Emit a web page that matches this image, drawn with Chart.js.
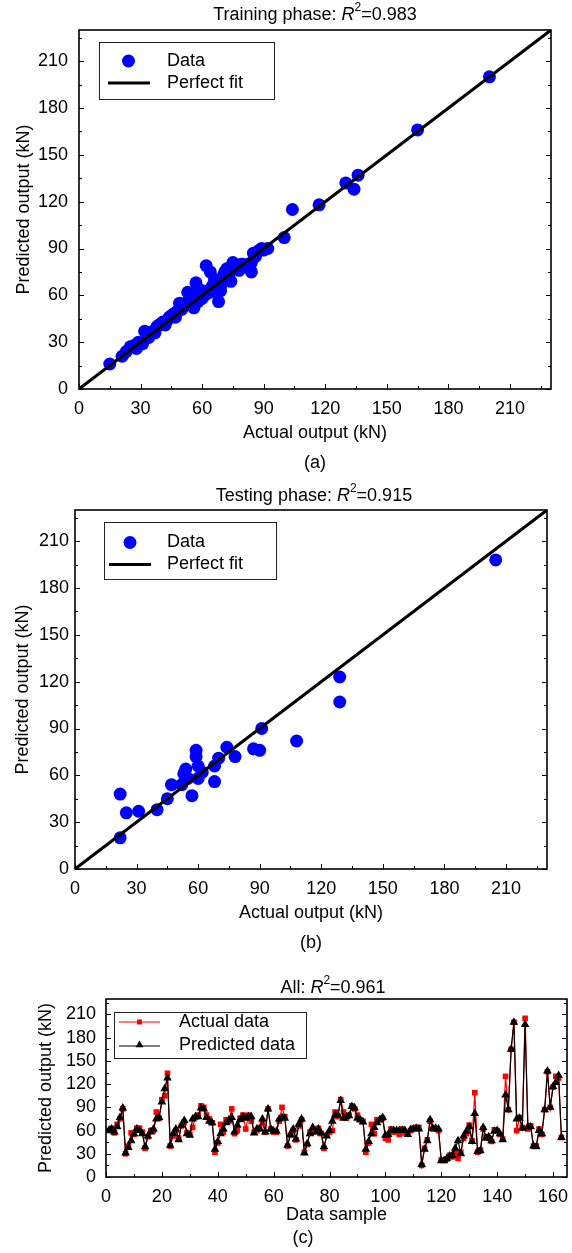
<!DOCTYPE html>
<html>
<head>
<meta charset="utf-8">
<script src="https://cdn.jsdelivr.net/npm/chart.js@4.4.1/dist/chart.umd.min.js"></script>
<style>
html,body{margin:0;padding:0;background:#fff;}
#wrap{position:relative;width:572px;height:1253px;overflow:hidden;background:#fff;}
canvas{position:absolute;left:0;display:block;}
</style>
</head>
<body>
<div id="wrap">
<canvas id="ca" width="572" height="475" style="top:0px"></canvas>
<canvas id="cb" width="572" height="478" style="top:475px"></canvas>
<canvas id="cc" width="572" height="300" style="top:953px"></canvas>
</div>
<script>
// ================= DATA =================
// (a) Training phase scatter: actual vs predicted (kN)
const trainActual    = [15,21,23,25,27,28,29,31,32,33,34,36,37,38,39,40,41,42,43,44,45,46,47,48,49,50,50,51,52,53,53,54,55,55,56,57,57,58,58,59,60,60,61,62,62,63,64,64,65,66,66,67,68,69,69,70,71,72,72,73,74,74,75,76,77,78,79,80,81,82,83,84,84,85,86,87,88,89,90,92,100,104,117,130,134,136,165,200];
const trainPredicted = [16,21,24,27,28,26,30,29,37,36,33,37,36,40,41,42,43,41,44,46,47,48,46,50,55,51,54,53,55,62,54,58,55,60,52,60,68,64,56,62,58,63,60,79,61,63,75,62,66,65,70,68,56,66,63,72,75,77,70,73,69,76,81,78,79,76,80,80,79,78,80,75,81,87,85,88,89,90,89,90,97,115,118,132,128,137,166,200];
// (b) Testing phase scatter
const testActual    = [22,22,25,31,40,45,47,52,53,54,55,57,59,59,60,60,62,68,68,70,74,78,87,90,91,108,129,129,205];
const testPredicted = [20,48,36,37,38,45,54,54,61,64,58,47,76,72,66,58,62,56,66,71,78,72,77,76,90,82,123,107,198];
// Perfect-fit line end points
const fitLine = [0, 230];
// (c) All samples
const actualData = [60,63,57,68,75,88,30,40,57,55, 63,63,58,37,52,60,60,84,76,100, 105,134,40,53,60,50,66,71,57,55,
  64,77,80,92,90,80,75,70,32,44, 68,58,74,72,88,56,60,76,80,62, 80,72,58,60,64,70,58,88,62,58,
  58,72,90,78,40,54,60,48,66,74, 32,42,58,58,62,63,56,37,54,58, 60,84,78,100,84,76,80,92,88,80,
  74,72,32,44,68,56,74,74,76,50, 48,62,58,58,55,62,57,56,60,63, 64,64,15,37,48,72,62,62,60,22,
  22,23,28,26,32,24,32,50,56,67, 47,109,32,35,62,52,50,46,61,60, 55,49,130,87,165,200,60,77,64,205,
  62,66,40,40,62,55,87,136,90,116, 130,128,51];
const predictedData = [60,62,58,65,77,89,31,38,47,56, 62,60,56,39,53,58,62,75,77,97, 114,128,41,56,62,48,67,73,56,54,
  75,78,78,89,88,77,72,70,36,46, 56,62,70,74,77,58,67,74,78,76, 78,78,57,62,62,75,58,88,62,59,
  59,75,77,76,41,55,62,49,68,75, 31,43,56,64,58,62,57,39,53,60, 72,80,80,99,76,78,79,91,89,76,
  74,71,36,46,56,64,70,74,77,54, 55,60,60,60,60,60,60,55,61,62, 63,62,16,36,47,74,63,63,62,21,
  21,24,27,28,37,47,30,53,59,65, 46,82,33,34,64,50,52,47,59,60, 56,48,106,87,165,200,75,76,63,197,
  65,65,40,39,60,56,87,137,90,117, 122,131,51];
const sampleIndex = actualData.map((_, i) => i + 1);
// Tick labels
const scatterTicks = [0,30,60,90,120,150,180,210];
const sampleTicks  = [0,20,40,60,80,100,120,140,160];
const valueTicks   = [0,30,60,90,120,150,180,210];
// Titles
const titleA = ['Training phase: ', 'R', '2', '=0.983'];
const titleB = ['Testing phase: ', 'R', '2', '=0.915'];
const titleC = ['All: ', 'R', '2', '=0.961'];

// ================= RENDERING =================
const FONT = "'Liberation Sans', Arial, Helvetica, sans-serif";
Chart.defaults.font.family = FONT;
Chart.defaults.font.size = 18;
Chart.defaults.color = '#000';

function pts(xs, ys) { return xs.map((x, i) => ({x: x, y: ys[i]})); }

function drawRich(ctx, parts, cx, cy) {
  const fonts = ['18px ' + FONT, 'italic 18px ' + FONT, '12px ' + FONT, '18px ' + FONT];
  const dy = [0, 0, -7, 0];
  let w = 0;
  const ws = parts.map((p, i) => { ctx.font = fonts[i]; const m = ctx.measureText(p).width; w += m; return m; });
  let x = cx - w / 2;
  ctx.fillStyle = '#000'; ctx.textAlign = 'left'; ctx.textBaseline = 'middle';
  parts.forEach((p, i) => { ctx.font = fonts[i]; ctx.fillText(p, x, cy + dy[i]); x += ws[i]; });
}

function decor(o) {
  return {
    id: 'decor',
    afterDraw(chart) {
      const ctx = chart.ctx, a = chart.chartArea, xs = chart.scales.x, ys = chart.scales.y;
      ctx.save();
      ctx.strokeStyle = '#000'; ctx.lineWidth = 1;
      const seg = (x1, y1, x2, y2) => { ctx.beginPath(); ctx.moveTo(x1, y1); ctx.lineTo(x2, y2); ctx.stroke(); };
      const mx = xs.ticks.map(t => t.value), my = ys.ticks.map(t => t.value);
      for (let v = xs.min; v <= xs.max + 1e-6; v += o.xMinor) {
        const L = mx.some(m => Math.abs(m - v) < 1e-6) ? 5 : 3;
        const p = Math.round(xs.getPixelForValue(v)) + 0.5;
        seg(p, a.bottom, p, a.bottom - L);
      }
      for (let v = ys.min; v <= ys.max + 1e-6; v += o.yMinor) {
        const L = my.some(m => Math.abs(m - v) < 1e-6) ? 5 : 3;
        const p = Math.round(ys.getPixelForValue(v)) + 0.5;
        seg(a.left, p, a.left + L, p);
        seg(a.right, p, a.right - L, p);
      }
      ctx.lineWidth = 1.6;
      ctx.strokeRect(a.left, a.top, a.right - a.left, a.bottom - a.top);
      drawRich(ctx, o.title, o.titleX, o.titleY);
      ctx.font = '18px ' + FONT; ctx.fillStyle = '#000'; ctx.textAlign = 'center'; ctx.textBaseline = 'middle';
      ctx.fillText(o.caption, o.captionX, o.captionY);
      o.legend(ctx);
      ctx.restore();
    }
  };
}

function scatterLegend(bx, by, bw, bh, r1, r2, lx1, lx2, tx, cxDot) {
  return function (ctx) {
    ctx.lineWidth = 1; ctx.strokeStyle = '#222';
    ctx.strokeRect(bx + 0.5, by + 0.5, bw, bh);
    ctx.fillStyle = '#0000ff';
    ctx.beginPath(); ctx.arc(cxDot, r1, 6.5, 0, Math.PI * 2); ctx.fill();
    ctx.strokeStyle = '#000'; ctx.lineWidth = 3;
    ctx.beginPath(); ctx.moveTo(lx1, r2); ctx.lineTo(lx2, r2); ctx.stroke();
    ctx.fillStyle = '#000'; ctx.font = '18px ' + FONT; ctx.textAlign = 'left'; ctx.textBaseline = 'middle';
    ctx.fillText('Data', tx, r1);
    ctx.fillText('Perfect fit', tx, r2);
  };
}

function scatterChart(id, xs, ys, o) {
  return new Chart(document.getElementById(id), {
    type: 'scatter',
    data: {
      datasets: [
        { label: 'Perfect fit', type: 'line', data: pts(fitLine, fitLine), borderColor: '#000', borderWidth: 3,
          pointRadius: 0, fill: false, order: 0 },
        { label: 'Data', data: pts(xs, ys), backgroundColor: '#0000ff', borderColor: '#0000ff', borderWidth: 0,
          pointRadius: 6.5, order: 1 }
      ]
    },
    options: {
      responsive: false, animation: false, events: [],
      layout: { padding: { top: o.padTop, right: o.padRight, left: 0, bottom: 0 } },
      plugins: { legend: { display: false }, tooltip: { enabled: false } },
      scales: {
        x: {
          type: 'linear', min: 0, max: 230,
          grid: { display: false, drawTicks: false }, border: { display: false },
          ticks: { autoSkip: false, maxRotation: 0, padding: o.xPad, font: { size: 18 }, color: '#000' },
          afterBuildTicks: s => { s.ticks = scatterTicks.map(v => ({ value: v })); },
          afterFit: s => { s.height = o.xHeight; s.paddingLeft = 0; s.paddingRight = 0; },
          title: { display: true, text: 'Actual output (kN)', font: { size: 18 }, color: '#000', padding: { top: 0, bottom: o.xTitlePad } }
        },
        y: {
          type: 'linear', min: 0, max: 230,
          grid: { display: false, drawTicks: false }, border: { display: false },
          ticks: { autoSkip: false, padding: o.yPad, font: { size: 18 }, color: '#000' },
          afterBuildTicks: s => { s.ticks = scatterTicks.map(v => ({ value: v })); },
          afterFit: s => { s.width = o.yWidth; s.paddingTop = 0; s.paddingBottom = 0; },
          title: { display: true, text: 'Predicted output (kN)', font: { size: 18 }, color: '#000', padding: { top: o.yTitlePad, bottom: 0 } }
        }
      }
    },
    plugins: [decor(o)]
  });
}

scatterChart('ca', trainActual, trainPredicted, {
  padTop: 30, padRight: 21, xHeight: 86, yWidth: 79, xPad: 9, yPad: 11, xTitlePad: 31, yTitlePad: 13,
  xMinor: 15, yMinor: 15, title: titleA, titleX: 315, titleY: 15, caption: '(a)', captionX: 315, captionY: 463,
  legend: scatterLegend(99, 42, 175, 57, 61, 83, 108, 150, 167, 128.5)
});

scatterChart('cb', testActual, testPredicted, {
  padTop: 35, padRight: 25, xHeight: 84, yWidth: 75, xPad: 9, yPad: 6, xTitlePad: 29, yTitlePad: 12,
  xMinor: 15, yMinor: 15, title: titleB, titleX: 314, titleY: 21, caption: '(b)', captionX: 311, captionY: 468,
  legend: scatterLegend(104, 47, 172, 57, 67.5, 89.5, 109, 151, 167, 130)
});

// (c) line chart
function lineLegend(ctx) {
  const H = Chart.helpers;
  ctx.lineWidth = 1; ctx.strokeStyle = '#222';
  ctx.strokeRect(114.5, 59.5, 192, 46);
  // actual
  ctx.strokeStyle = '#ff0000'; ctx.lineWidth = 1.2;
  ctx.beginPath(); ctx.moveTo(119, 69); ctx.lineTo(160, 69); ctx.stroke();
  ctx.fillStyle = '#ff0000';
  H.drawPoint(ctx, { pointStyle: 'rect', radius: 3.5, rotation: 0, borderWidth: 0 }, 139.5, 69);
  // predicted
  ctx.strokeStyle = '#000';
  ctx.beginPath(); ctx.moveTo(119, 93); ctx.lineTo(160, 93); ctx.stroke();
  ctx.fillStyle = '#000';
  H.drawPoint(ctx, { pointStyle: 'triangle', radius: 4.5, rotation: 0, borderWidth: 0 }, 139.5, 92);
  ctx.fillStyle = '#000'; ctx.font = '18px ' + FONT; ctx.textAlign = 'left'; ctx.textBaseline = 'middle';
  ctx.fillText('Actual data', 179, 69);
  ctx.fillText('Predicted data', 179, 92);
}

new Chart(document.getElementById('cc'), {
  type: 'line',
  data: {
    datasets: [
      { label: 'Predicted data', data: pts(sampleIndex, predictedData), borderColor: '#000', borderWidth: 1.2,
        backgroundColor: '#000', pointBackgroundColor: '#000', pointBorderColor: '#000', pointBorderWidth: 0,
        pointStyle: 'triangle', pointRadius: 5, tension: 0, fill: false, order: 0 },
      { label: 'Actual data', data: pts(sampleIndex, actualData), borderColor: '#ff0000', borderWidth: 1.2,
        backgroundColor: '#ff0000', pointBackgroundColor: '#ff0000', pointBorderColor: '#ff0000', pointBorderWidth: 0,
        pointStyle: 'rect', pointRadius: 4, tension: 0, fill: false, order: 1 }
    ]
  },
  options: {
    responsive: false, animation: false, events: [],
    layout: { padding: { top: 46, right: 3, left: 0, bottom: 0 } },
    plugins: { legend: { display: false }, tooltip: { enabled: false } },
    scales: {
      x: {
        type: 'linear', min: 0, max: 165,
        grid: { display: false, drawTicks: false }, border: { display: false },
        ticks: { autoSkip: false, maxRotation: 0, padding: 9, font: { size: 18 }, color: '#000' },
        afterBuildTicks: s => { s.ticks = sampleTicks.map(v => ({ value: v })); },
        afterFit: s => { s.height = 76; s.paddingLeft = 0; s.paddingRight = 0; },
        title: { display: true, text: 'Data sample', font: { size: 18 }, color: '#000', padding: { top: 0, bottom: 27 } }
      },
      y: {
        type: 'linear', min: 0, max: 230,
        grid: { display: false, drawTicks: false }, border: { display: false },
        ticks: { autoSkip: false, padding: 10, font: { size: 18 }, color: '#000' },
        afterBuildTicks: s => { s.ticks = valueTicks.map(v => ({ value: v })); },
        afterFit: s => { s.width = 106; s.paddingTop = 0; s.paddingBottom = 0; },
        title: { display: true, text: 'Predicted output (kN)', font: { size: 18 }, color: '#000', padding: { top: 35, bottom: 0 } }
      }
    }
  },
  plugins: [decor({ xMinor: 10, yMinor: 15, title: titleC, titleX: 333, titleY: 35, caption: '(c)', captionX: 303, captionY: 285, legend: lineLegend })]
});
</script>
</body>
</html>
